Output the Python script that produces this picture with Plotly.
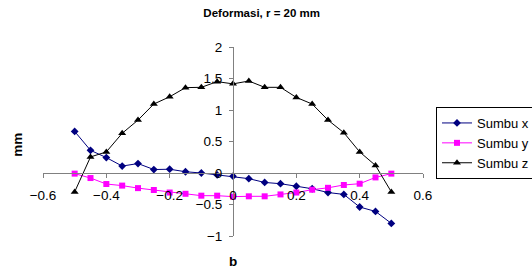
import plotly.graph_objects as go

b_vals = [-0.5, -0.45, -0.4, -0.35, -0.3, -0.25, -0.2, -0.15, -0.1, -0.05, 0.0,
          0.05, 0.1, 0.15, 0.2, 0.25, 0.3, 0.35, 0.4, 0.45, 0.5]
sumbu_x = [0.66, 0.36, 0.245, 0.11, 0.15, 0.055, 0.06, 0.02, 0.0, -0.03, -0.05,
           -0.09, -0.15, -0.17, -0.21, -0.25, -0.31, -0.34, -0.54, -0.61, -0.80]
sumbu_y = [-0.01, -0.08, -0.175, -0.2, -0.24, -0.27, -0.31, -0.33, -0.36, -0.36, -0.375,
           -0.37, -0.37, -0.34, -0.31, -0.265, -0.235, -0.19, -0.17, -0.07, -0.01]
sumbu_z = [-0.30, 0.255, 0.335, 0.63, 0.84, 1.095, 1.21, 1.355, 1.36, 1.45, 1.415,
           1.46, 1.36, 1.36, 1.20, 1.095, 0.84, 0.64, 0.335, 0.12, -0.30]

title_text = "Deformasi, r = 20 mm"
x_title = "b"
y_title = "mm"

FONT = "Liberation Sans, Arial, sans-serif"
AX = "#808080"

fig = go.Figure()
fig.add_trace(go.Scatter(x=b_vals, y=sumbu_x, name="Sumbu x", mode="lines+markers",
                         line=dict(color="#000080", width=1),
                         marker=dict(symbol="diamond", size=6, color="#000080")))
fig.add_trace(go.Scatter(x=b_vals, y=sumbu_y, name="Sumbu y", mode="lines+markers",
                         line=dict(color="#FF00FF", width=1),
                         marker=dict(symbol="square", size=6, color="#FF00FF")))
fig.add_trace(go.Scatter(x=b_vals, y=sumbu_z, name="Sumbu z", mode="lines+markers",
                         line=dict(color="#000000", width=1),
                         marker=dict(symbol="triangle-up", size=7, color="#000000")))

fig.update_layout(
    width=532, height=271,
    margin=dict(l=43, r=109, t=47, b=35, autoexpand=False),
    paper_bgcolor="white", plot_bgcolor="white",
    font=dict(family=FONT, size=13.5, color="black"),
    title=dict(text="<b>" + title_text + "</b>", x=261.7 / 532, xanchor="center",
               y=1 - 13 / 271, yanchor="middle", font=dict(size=11.5, family=FONT)),
    showlegend=True,
    legend=dict(x=(436 - 43) / 380, xanchor="left", y=(236 - 107) / 189, yanchor="top",
                bordercolor="black", borderwidth=1, bgcolor="white",
                font=dict(size=13, family=FONT), tracegroupgap=0,
                itemwidth=30),
    xaxis=dict(range=[-0.6, 0.6], dtick=0.2, tick0=-0.6, showgrid=False, zeroline=False,
               showline=True, linecolor=AX, linewidth=1, ticks="outside", ticklen=4,
               tickcolor=AX, anchor="free", position=1 / 3, ticklabelstandoff=6,
               tickfont=dict(size=13.5)),
    yaxis=dict(range=[-1, 2], dtick=0.5, showgrid=False, zeroline=False,
               showline=True, linecolor=AX, linewidth=1, ticks="outside", ticklen=4,
               tickcolor=AX, anchor="free", position=0.5, ticklabelstandoff=4,
               tickfont=dict(size=13.5)),
    annotations=[
        dict(text="<b>" + x_title + "</b>", xref="paper", yref="paper",
             x=(233 - 43) / 380, y=(236 - 261.5) / 189, xanchor="center", yanchor="middle",
             showarrow=False, font=dict(size=13.5, family=FONT)),
        dict(text="<b>" + y_title + "</b>", xref="paper", yref="paper",
             x=(16.7 - 43) / 380, y=(236 - 145) / 189, xanchor="center", yanchor="middle",
             textangle=-90, showarrow=False, font=dict(size=13.5, family=FONT)),
    ],
)

fig.write_html("out.html", config={"displayModeBar": False},
               post_script="document.body.style.margin='0';document.body.style.overflow='hidden';")
